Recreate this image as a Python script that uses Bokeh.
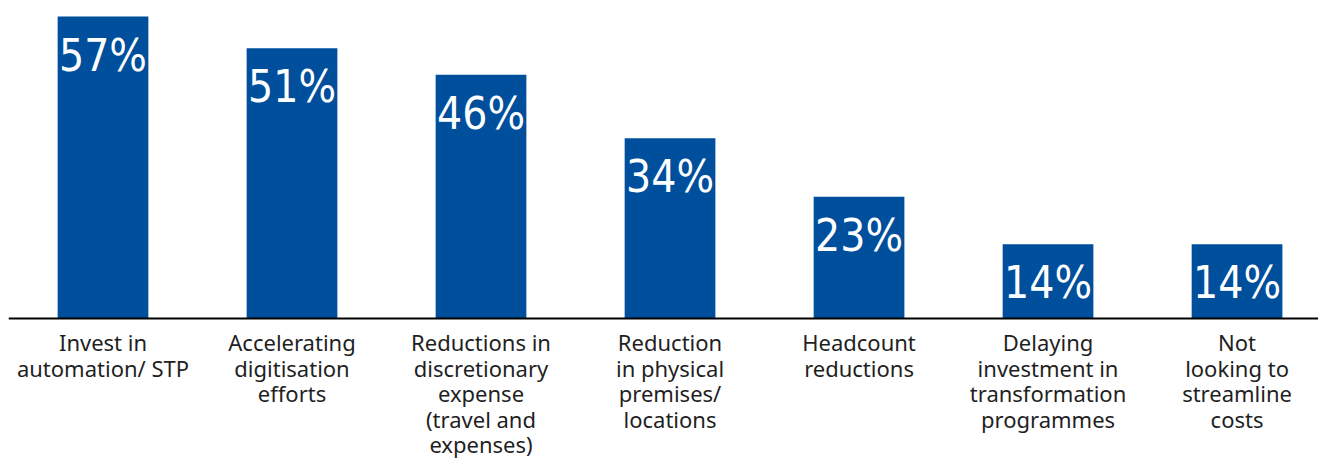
from bokeh.plotting import figure
from bokeh.models import ColumnDataSource, Range1d, FixedTicker, LinearAxis
from bokeh.core.properties import value
from bokeh.embed import file_html
from bokeh.resources import INLINE

categories = [
    "Invest in\nautomation/ STP",
    "Accelerating\ndigitisation\nefforts",
    "Reductions in\ndiscretionary\nexpense\n(travel and\nexpenses)",
    "Reduction\nin physical\npremises/\nlocations",
    "Headcount\nreductions",
    "Delaying\ninvestment in\ntransformation\nprogrammes",
    "Not\nlooking to\nstreamline\ncosts",
]
values = [57, 51, 46, 34, 23, 14, 14]
value_labels = ["57%", "51%", "46%", "34%", "23%", "14%", "14%"]

xs = list(range(len(categories)))
source = ColumnDataSource(data=dict(x=xs, top=values, label=value_labels))

p = figure(
    width=1318, height=462,
    x_range=Range1d(-0.5, 6.431), y_range=Range1d(-27.18, 60.02),
    output_backend="svg", toolbar_location=None,
    x_axis_location=None, y_axis_location=None,
    min_border_left=8, min_border_right=0, min_border_top=0, min_border_bottom=0,
)
p.outline_line_color = None
p.grid.visible = False
p.background_fill_color = "white"
p.border_fill_color = "white"

p.vbar(x="x", top="top", width=0.48, source=source, color="#004F9C", line_color=None)
p.text(x="x", y="top", text="label", source=source,
       text_align="center", text_baseline="top", y_offset=13,
       text_font=value("DejaVu Sans Condensed, Liberation Sans, sans-serif"),
       text_font_size="44px",
       text_color="white")

ax = LinearAxis(fixed_location=0)
p.add_layout(ax, "below")
ax.ticker = FixedTicker(ticks=xs)
ax.major_label_overrides = {i: c for i, c in zip(xs, categories)}
ax.axis_line_color = "black"
ax.axis_line_width = 2
ax.major_tick_line_color = None
ax.minor_tick_line_color = None
ax.major_tick_out = 0
ax.major_tick_in = 0
ax.minor_tick_out = 0
ax.minor_tick_in = 0
ax.major_label_standoff = 9
ax.major_label_text_font = "Noto Sans"
ax.major_label_text_font_size = "22px"
ax.major_label_text_color = "#1f1f1f"
ax.major_label_text_line_height = 0.85

open("out.html", "w").write(file_html(p, INLINE))
